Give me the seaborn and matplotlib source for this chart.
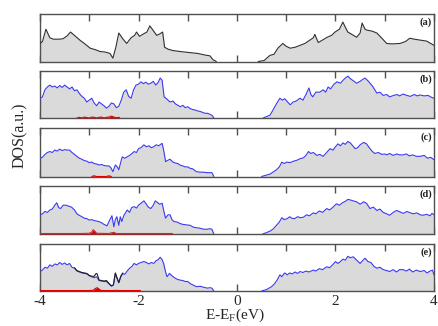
import numpy as np
import pandas as pd
import matplotlib
matplotlib.use("Agg")
import matplotlib.pyplot as plt
import seaborn as sns

# ---------------- data ----------------
tick_vals = [-4, -2, 0, 2, 4]
tick_labels = ["-4", "-2", "0", "2", "4"]
panel_labels = ["(a)", "(b)", "(c)", "(d)", "(e)"]

# (a) total DOS (black)
xa_l = [-4.0, -3.95, -3.88, -3.8, -3.73, -3.6, -3.53, -3.45, -3.38, -3.3,
        -3.19, -3.1, -2.98, -2.88, -2.78, -2.68, -2.58, -2.52, -2.46, -2.4,
        -2.32, -2.24, -2.15, -2.08, -2.04, -1.98, -1.9, -1.83, -1.77, -1.7,
        -1.63, -1.57, -1.51, -1.47, -1.4, -1.3, -1.15, -0.98, -0.8, -0.62,
        -0.55, -0.49, -0.42]
ya_l = [0.38, 0.42, 0.68, 0.5, 0.47, 0.47, 0.48, 0.54, 0.62, 0.55,
        0.45, 0.38, 0.28, 0.25, 0.21, 0.2, 0.17, 0.07, 0.3, 0.6,
        0.48, 0.38, 0.5, 0.55, 0.62, 0.53, 0.58, 0.62, 0.75, 0.65,
        0.55, 0.58, 0.62, 0.3, 0.26, 0.23, 0.21, 0.19, 0.17, 0.13,
        0.12, 0.04, 0.0]
xa_r = [0.43, 0.55, 0.67, 0.75, 0.83, 0.93, 1.0, 1.08, 1.18, 1.28,
        1.38, 1.48, 1.55, 1.58, 1.65, 1.75, 1.83, 1.92, 1.99, 2.08,
        2.15, 2.2, 2.25, 2.35, 2.43, 2.5, 2.54, 2.6, 2.64, 2.74,
        2.84, 2.95, 3.04, 3.15, 3.31, 3.42, 3.51, 3.6, 3.72, 3.85,
        4.0]
ya_r = [0.0, 0.02, 0.13, 0.15, 0.28, 0.38, 0.32, 0.28, 0.3, 0.34,
        0.38, 0.45, 0.5, 0.57, 0.4, 0.46, 0.51, 0.55, 0.62, 0.68,
        0.83, 0.72, 0.62, 0.56, 0.51, 0.6, 0.81, 0.68, 0.66, 0.64,
        0.6, 0.48, 0.38, 0.37, 0.38, 0.42, 0.49, 0.47, 0.45, 0.43,
        0.34]

# (b)
xb_l = [-4.0, -3.95, -3.9, -3.85, -3.8, -3.75, -3.7, -3.65, -3.6, -3.55,
        -3.5, -3.45, -3.4, -3.35, -3.3, -3.25, -3.2, -3.15, -3.1, -3.05,
        -3.0, -2.95, -2.9, -2.85, -2.8, -2.75, -2.7, -2.65, -2.6, -2.55,
        -2.5, -2.45, -2.4, -2.35, -2.3, -2.25, -2.2, -2.15, -2.1, -2.05,
        -2.0, -1.95, -1.9, -1.85, -1.8, -1.75, -1.7, -1.65, -1.6, -1.56,
        -1.52, -1.48, -1.42, -1.36, -1.3, -1.25, -1.2, -1.15, -1.1, -1.05,
        -1.0, -0.95, -0.9, -0.85, -0.8, -0.75, -0.7, -0.65, -0.6, -0.55,
        -0.5, -0.47]
yb_l = [0.42, 0.45, 0.6, 0.66, 0.7, 0.66, 0.68, 0.64, 0.69, 0.65,
        0.7, 0.66, 0.62, 0.66, 0.58, 0.6, 0.52, 0.46, 0.42, 0.34,
        0.38, 0.42, 0.32, 0.26, 0.34, 0.3, 0.26, 0.21, 0.25, 0.32,
        0.3, 0.22, 0.25, 0.38, 0.55, 0.6, 0.46, 0.42, 0.6, 0.7,
        0.72, 0.77, 0.73, 0.76, 0.72, 0.74, 0.78, 0.7, 0.76, 0.85,
        0.8, 0.45, 0.4, 0.34, 0.36, 0.3, 0.27, 0.24, 0.27, 0.22,
        0.24, 0.2, 0.18, 0.17, 0.15, 0.14, 0.12, 0.1, 0.1, 0.08,
        0.05, 0.0]
xb_r = [0.53, 0.6, 0.67, 0.72, 0.8, 0.87, 0.92, 0.97, 1.02, 1.08,
        1.14, 1.2, 1.28, 1.34, 1.4, 1.46, 1.5, 1.54, 1.6, 1.68,
        1.75, 1.8, 1.85, 1.9, 1.97, 2.03, 2.1, 2.15, 2.2, 2.25,
        2.3, 2.35, 2.43, 2.5, 2.55, 2.6, 2.67, 2.75, 2.84, 2.9,
        2.97, 3.04, 3.1, 3.18, 3.25, 3.3, 3.37, 3.45, 3.52, 3.6,
        3.66, 3.72, 3.8, 3.88, 3.95, 4.0]
yb_r = [0.0, 0.03, 0.06, 0.15, 0.3, 0.42, 0.38, 0.41, 0.35, 0.28,
        0.34, 0.36, 0.42, 0.38, 0.5, 0.64, 0.5, 0.45, 0.55, 0.55,
        0.6, 0.55, 0.66, 0.62, 0.72, 0.77, 0.74, 0.8, 0.85, 0.89,
        0.84, 0.8, 0.74, 0.78, 0.82, 0.85, 0.78, 0.68, 0.53, 0.55,
        0.48, 0.5, 0.45, 0.48, 0.5, 0.47, 0.51, 0.48, 0.46, 0.5,
        0.47, 0.49, 0.47, 0.48, 0.44, 0.42]
xr_b = [-3.25, -3.2, -3.15, -3.1, -3.05, -3.0, -2.95, -2.9, -2.85, -2.8,
        -2.75, -2.7, -2.65, -2.6, -2.55, -2.5, -2.45, -2.4, -2.38]
yr_b = [0.0, 0.015, 0.0, 0.02, 0.01, 0.0, 0.02, 0.015, 0.0, 0.015,
        0.02, 0.0, 0.015, 0.02, 0.04, 0.02, 0.005, 0.015, 0.0]

# (c)
xc_l = [-4.0, -3.95, -3.9, -3.85, -3.8, -3.75, -3.7, -3.65, -3.6, -3.55,
        -3.5, -3.45, -3.4, -3.35, -3.3, -3.25, -3.2, -3.15, -3.1, -3.05,
        -3.0, -2.95, -2.9, -2.85, -2.8, -2.75, -2.7, -2.65, -2.6, -2.56,
        -2.52, -2.47, -2.43, -2.4, -2.36, -2.33, -2.28, -2.23, -2.18, -2.13,
        -2.09, -2.04, -2.0, -1.95, -1.89, -1.84, -1.79, -1.74, -1.69, -1.64,
        -1.59, -1.55, -1.52, -1.48, -1.45, -1.4, -1.36, -1.3, -1.25, -1.2,
        -1.16, -1.1, -1.05, -1.0, -0.95, -0.9, -0.85, -0.82, -0.75, -0.68,
        -0.6, -0.55, -0.51, -0.47]
yc_l = [0.38, 0.4, 0.46, 0.5, 0.52, 0.5, 0.55, 0.53, 0.57, 0.54,
        0.56, 0.55, 0.55, 0.5, 0.46, 0.42, 0.38, 0.36, 0.33, 0.32,
        0.29, 0.3, 0.27, 0.26, 0.24, 0.25, 0.23, 0.22, 0.22, 0.18,
        0.1, 0.24, 0.2, 0.14, 0.3, 0.41, 0.38, 0.41, 0.44, 0.48,
        0.52, 0.5, 0.58, 0.6, 0.66, 0.62, 0.64, 0.6, 0.62, 0.66,
        0.64, 0.67, 0.69, 0.5, 0.31, 0.34, 0.36, 0.3, 0.28, 0.27,
        0.24, 0.22, 0.2, 0.2, 0.17, 0.16, 0.12, 0.1, 0.09, 0.09,
        0.08, 0.08, 0.08, 0.0]
xc_r = [0.5, 0.6, 0.67, 0.73, 0.8, 0.86, 0.91, 0.96, 1.01, 1.08,
        1.15, 1.22, 1.28, 1.35, 1.4, 1.45, 1.5, 1.55, 1.62, 1.68,
        1.75, 1.82, 1.89, 1.95, 2.0, 2.05, 2.1, 2.15, 2.2, 2.25,
        2.3, 2.35, 2.4, 2.45, 2.5, 2.57, 2.63, 2.7, 2.75, 2.8,
        2.87, 2.94, 3.0, 3.04, 3.1, 3.17, 3.24, 3.3, 3.37, 3.44,
        3.5, 3.57, 3.64, 3.72, 3.8, 3.87, 3.93, 4.0]
yc_r = [0.0, 0.03, 0.05, 0.09, 0.14, 0.2, 0.3, 0.27, 0.3, 0.29,
        0.32, 0.34, 0.37, 0.39, 0.44, 0.52, 0.48, 0.5, 0.44, 0.46,
        0.42, 0.5, 0.58, 0.55, 0.62, 0.68, 0.64, 0.7, 0.67, 0.73,
        0.7, 0.64, 0.58, 0.6, 0.66, 0.71, 0.68, 0.58, 0.52, 0.48,
        0.5, 0.46, 0.47, 0.45, 0.48, 0.44, 0.47, 0.45, 0.45, 0.47,
        0.43, 0.45, 0.42, 0.42, 0.44, 0.38, 0.4, 0.35]
xr_c = [-2.95, -2.9, -2.85, -2.65, -2.6, -2.55]
yr_c = [0.0, 0.015, 0.0, 0.0, 0.015, 0.0]

# (d)
xd_l = [-4.0, -3.95, -3.9, -3.85, -3.8, -3.75, -3.7, -3.66, -3.62, -3.58,
        -3.53, -3.47, -3.42, -3.36, -3.3, -3.25, -3.22, -3.15, -3.1, -3.05,
        -3.0, -2.95, -2.9, -2.85, -2.81, -2.76, -2.7, -2.64, -2.58, -2.54,
        -2.5, -2.47, -2.44, -2.4, -2.37, -2.34, -2.3, -2.26, -2.23, -2.18,
        -2.14, -2.09, -2.04, -2.0, -1.95, -1.89, -1.84, -1.8, -1.75, -1.7,
        -1.66, -1.62, -1.57, -1.52, -1.48, -1.45, -1.4, -1.36, -1.32, -1.28,
        -1.22, -1.16, -1.1, -1.02, -0.95, -0.88, -0.82, -0.75, -0.68, -0.6,
        -0.55, -0.51, -0.47]
yd_l = [0.4, 0.42, 0.47, 0.45, 0.5, 0.52, 0.6, 0.65, 0.55, 0.53,
        0.6, 0.6, 0.58, 0.56, 0.5, 0.42, 0.4, 0.36, 0.33, 0.32,
        0.29, 0.3, 0.28, 0.27, 0.26, 0.24, 0.2, 0.17, 0.3, 0.38,
        0.15, 0.3, 0.36, 0.18, 0.36, 0.26, 0.38, 0.45, 0.5, 0.45,
        0.55, 0.57, 0.54, 0.6, 0.64, 0.69, 0.62, 0.56, 0.53, 0.6,
        0.69, 0.66, 0.62, 0.64, 0.45, 0.33, 0.4, 0.4, 0.3, 0.26,
        0.25, 0.22, 0.2, 0.19, 0.18, 0.14, 0.13, 0.12, 0.1, 0.1,
        0.11, 0.1, 0.0]
xd_r = [0.52, 0.6, 0.67, 0.73, 0.8, 0.86, 0.91, 0.96, 1.02, 1.07,
        1.11, 1.17, 1.23, 1.29, 1.35, 1.41, 1.47, 1.55, 1.6, 1.67,
        1.74, 1.82, 1.88, 1.95, 2.02, 2.08, 2.14, 2.2, 2.25, 2.3,
        2.36, 2.43, 2.5, 2.57, 2.63, 2.7, 2.77, 2.84, 2.9, 2.97,
        3.04, 3.1, 3.17, 3.24, 3.31, 3.38, 3.45, 3.52, 3.58, 3.65,
        3.72, 3.78, 3.85, 3.92, 3.96, 4.0]
yd_r = [0.0, 0.03, 0.06, 0.1, 0.18, 0.25, 0.34, 0.3, 0.32, 0.36,
        0.33, 0.32, 0.36, 0.34, 0.35, 0.4, 0.38, 0.44, 0.42, 0.48,
        0.45, 0.53, 0.5, 0.56, 0.63, 0.6, 0.65, 0.68, 0.72, 0.71,
        0.69, 0.67, 0.62, 0.67, 0.64, 0.53, 0.56, 0.49, 0.52, 0.45,
        0.42, 0.39, 0.45, 0.49, 0.46, 0.43, 0.47, 0.44, 0.42, 0.44,
        0.4, 0.39, 0.41, 0.38, 0.43, 0.4]
xr_d = [-4.0, -3.2, -3.0, -2.95, -2.92, -2.88, -2.85, -2.6, -2.55, -2.5,
        -2.45, -2.2, -1.31]
yr_d = [0.01, 0.01, 0.015, 0.04, 0.09, 0.05, 0.015, 0.01, 0.025, 0.035,
        0.01, 0.01, 0.01]
xr_d2 = [0.73, 4.0]
yr_d2 = [0.01, 0.01]

# (e)
xe_l = [-4.0, -3.95, -3.9, -3.85, -3.8, -3.75, -3.7, -3.65, -3.6, -3.55,
        -3.5, -3.45, -3.4, -3.35, -3.3, -3.25, -3.2, -3.15, -3.1, -3.05,
        -3.0, -2.95, -2.9, -2.85, -2.8, -2.75, -2.7, -2.65, -2.6, -2.55,
        -2.51, -2.47, -2.43, -2.4, -2.36, -2.32, -2.28, -2.23, -2.18, -2.13,
        -2.09, -2.04, -2.0, -1.95, -1.89, -1.84, -1.79, -1.74, -1.69, -1.64,
        -1.6, -1.56, -1.52, -1.49, -1.45, -1.42, -1.37, -1.32, -1.27, -1.22,
        -1.16, -1.1, -1.05, -1.0, -0.94, -0.88, -0.82, -0.75, -0.68, -0.6,
        -0.55, -0.51, -0.47]
ye_l = [0.41, 0.44, 0.5, 0.48, 0.55, 0.52, 0.57, 0.55, 0.6, 0.56,
        0.59, 0.55, 0.58, 0.5, 0.48, 0.42, 0.4, 0.38, 0.37, 0.36,
        0.32, 0.3, 0.28, 0.3, 0.22, 0.21, 0.2, 0.2, 0.15, 0.1,
        0.12, 0.37, 0.25, 0.17, 0.3, 0.37, 0.35, 0.42, 0.48, 0.52,
        0.58, 0.55, 0.58, 0.6, 0.62, 0.6, 0.57, 0.6, 0.58, 0.64,
        0.66, 0.71, 0.66, 0.58, 0.4, 0.3, 0.37, 0.32, 0.28, 0.25,
        0.23, 0.22, 0.2, 0.2, 0.15, 0.12, 0.09, 0.1, 0.08, 0.06,
        0.07, 0.06, 0.0]
xk_e = [-3.3, -3.25, -3.2, -3.15, -3.1, -3.05, -3.0, -2.95, -2.9, -2.86,
        -2.84, -2.8, -2.75, -2.7, -2.65, -2.6, -2.55, -2.51, -2.47, -2.43,
        -2.4, -2.36, -2.32]
yk_e = [0.49, 0.43, 0.41, 0.39, 0.38, 0.37, 0.33, 0.31, 0.31, 0.37,
        0.36, 0.23, 0.22, 0.21, 0.22, 0.16, 0.11, 0.13, 0.38, 0.26,
        0.18, 0.31, 0.38]
xe_r = [0.5, 0.6, 0.7, 0.76, 0.82, 0.87, 0.91, 0.95, 0.97, 1.02,
        1.07, 1.12, 1.18, 1.23, 1.28, 1.34, 1.4, 1.46, 1.55, 1.6,
        1.67, 1.74, 1.82, 1.88, 1.94, 2.0, 2.05, 2.1, 2.15, 2.2,
        2.25, 2.3, 2.36, 2.42, 2.5, 2.55, 2.6, 2.66, 2.72, 2.78,
        2.84, 2.9, 2.97, 3.04, 3.1, 3.17, 3.24, 3.3, 3.37, 3.44,
        3.5, 3.57, 3.64, 3.72, 3.8, 3.86, 3.92, 3.97, 4.0]
ye_r = [0.0, 0.03, 0.09, 0.15, 0.24, 0.34, 0.3, 0.36, 0.38, 0.34,
        0.38, 0.36, 0.4, 0.37, 0.41, 0.39, 0.42, 0.4, 0.44, 0.42,
        0.47, 0.45, 0.51, 0.49, 0.55, 0.62, 0.58, 0.62, 0.67, 0.65,
        0.73, 0.7, 0.72, 0.66, 0.58, 0.64, 0.69, 0.62, 0.6, 0.52,
        0.48, 0.5, 0.45, 0.43, 0.41, 0.45, 0.4, 0.45, 0.45, 0.42,
        0.46, 0.4, 0.44, 0.41, 0.43, 0.38, 0.42, 0.44, 0.34]
xr_e = [-4.0, -3.0, -2.92, -2.88, -2.84, -2.8, -2.76, -2.5, -2.45, -2.4, -1.96]
yr_e = [0.01, 0.01, 0.015, 0.05, 0.07, 0.04, 0.01, 0.01, 0.015, 0.01, 0.01]

# ---------------- style ----------------
sns.set_style("ticks")
plt.rcParams["font.family"] = ["Liberation Serif", "DejaVu Serif"]
plt.rcParams["mathtext.fontset"] = "custom"
plt.rcParams["mathtext.rm"] = "Liberation Serif"

GRAY_FILL = "#dadada"
FRAME = "#505050"
BLUE = "#3a3af0"
RED = "#e00000"

W, H = 439, 326
fig = plt.figure(figsize=(W / 100, H / 100), dpi=100)

panel_px = [(14, 61.5), (71, 118), (128.5, 176.5), (186, 234), (243.5, 291)]
left_px, right_px = 40, 434

panels = [
    dict(main=[(xa_l, ya_l), (xa_r, ya_r)], color="#303030", red=[], black=[]),
    dict(main=[(xb_l, yb_l), (xb_r, yb_r)], color=BLUE, red=[(xr_b, yr_b)], black=[]),
    dict(main=[(xc_l, yc_l), (xc_r, yc_r)], color=BLUE, red=[(xr_c, yr_c)], black=[]),
    dict(main=[(xd_l, yd_l), (xd_r, yd_r)], color=BLUE,
         red=[(xr_d, yr_d), (xr_d2, yr_d2)], black=[]),
    dict(main=[(xe_l, ye_l), (xe_r, ye_r)], color=BLUE, red=[(xr_e, yr_e)],
         black=[(xk_e, yk_e)]),
]

axes = []
for i, (p, (top, bot)) in enumerate(zip(panels, panel_px)):
    ax = fig.add_axes([left_px / W, 1 - bot / H, (right_px - left_px) / W, (bot - top) / H])
    axes.append(ax)
    for xs, ys in p["main"]:
        df = pd.DataFrame({"E": xs, "DOS": ys})
        ax.fill_between(df["E"], 0, df["DOS"], color=GRAY_FILL, lw=0, zorder=1)
        sns.lineplot(data=df, x="E", y="DOS", ax=ax, color=p["color"], lw=0.8,
                     sort=False, estimator=None, zorder=3)
    for xs, ys in p["black"]:
        df = pd.DataFrame({"E": xs, "DOS": ys})
        sns.lineplot(data=df, x="E", y="DOS", ax=ax, color="#202020", lw=0.8,
                     sort=False, estimator=None, zorder=4)
    for xs, ys in p["red"]:
        df = pd.DataFrame({"E": xs, "DOS": ys})
        ax.fill_between(df["E"], 0, df["DOS"], color=RED, lw=0, zorder=4)
        sns.lineplot(data=df, x="E", y="DOS", ax=ax, color=RED if i != 3 else "#c83030",
                     lw=0.8, sort=False, estimator=None, zorder=5)
    ax.set_xlim(-4, 4)
    ax.set_ylim(0, 1)
    ax.set_xlabel("")
    ax.set_ylabel("")
    ax.set_yticks([])
    ax.set_xticks(tick_vals, labels=tick_labels)
    ax.set_xticks([-3, -1, 1, 3], minor=True)
    ax.tick_params(axis="x", which="both", direction="in", top=True, bottom=True,
                   length=5, width=1.0, color=FRAME, labelsize=11, pad=3)
    for s in ax.spines.values():
        s.set_color(FRAME)
        s.set_linewidth(1.0)
        s.set_visible(True)
    ax.text(0.995, 0.92, panel_labels[i], transform=ax.transAxes, ha="right", va="top",
            fontsize=7.5, fontweight="bold", color="#202020")
    if i < 4:
        ax.tick_params(axis="x", labelbottom=False)

fig.text(0.046, 0.586, "DOS(a.u.)", rotation=90, ha="center", va="center", fontsize=11.5)
fig.text(0.535, 0.022, "E-E$_\\mathrm{F}$(eV)", ha="center", va="baseline", fontsize=11)

fig.savefig("out.png", dpi=100)
